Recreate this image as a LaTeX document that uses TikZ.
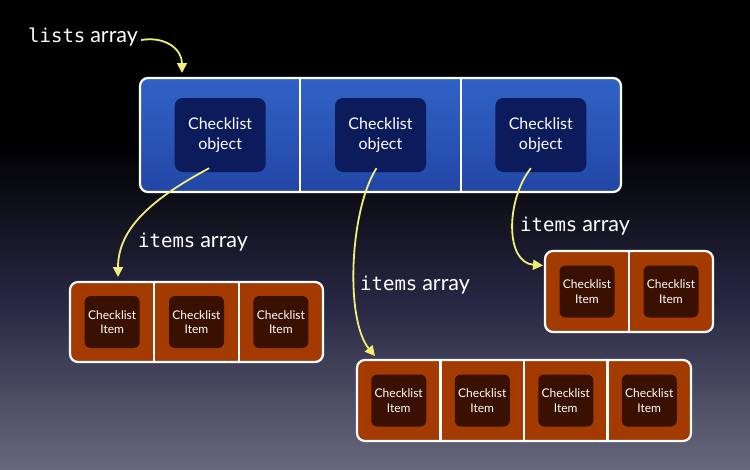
\documentclass[tikz,border=0pt]{standalone}
\usepackage{fontspec}
\setmainfont{Lato}
\setmonofont{DejaVu Sans Mono}
\usetikzlibrary{arrows.meta,positioning,calc}
\definecolor{bgbot}{RGB}{104,104,124}
\definecolor{bgmid}{RGB}{38,38,66}
\definecolor{bluetop}{RGB}{48,99,198}
\definecolor{bluebot}{RGB}{34,70,166}
\definecolor{navybox}{RGB}{12,27,92}
\definecolor{orangefill}{RGB}{163,58,0}
\definecolor{brownbox}{RGB}{58,17,0}
\definecolor{arrowyel}{RGB}{242,236,120}
\pgfdeclareverticalshading{bgshade}{100bp}{color(0bp)=(bgbot); color(25bp)=(bgbot);
  color(43bp)=(bgmid); color(60bp)=(black); color(100bp)=(black)}
\newcommand{\arrword}{{\fontsize{21.5}{22}\selectfont array}}

\begin{document}
\begin{tikzpicture}[x=1pt,y=-1pt,
  arraybox/.style={draw=white,line width=2.2pt,rounded corners=8pt,outer sep=0pt,inner sep=0pt},
  listarr/.style={arraybox,top color=bluetop,bottom color=bluebot},
  itemarr/.style={arraybox,fill=orangefill},
  divider/.style={draw=white,line width=2.2pt},
  objbox/.style={fill=navybox,rounded corners=8pt,minimum width=91pt,minimum height=74pt,
    align=center,text=white,font=\fontsize{16}{20.5}\selectfont},
  itembox/.style={fill=brownbox,rounded corners=6pt,minimum width=55pt,minimum height=52pt,
    align=center,text=white,font=\fontsize{12}{14.5}\selectfont},
  lbl/.style={text=white,font=\fontsize{19}{22}\selectfont,anchor=base west,inner sep=0pt},
  arr/.style={draw=arrowyel,line width=1.8pt,-{Triangle[length=10pt,width=10pt]}}]
\useasboundingbox (0,0) rectangle (750,469);
% Background
\fill[shading=bgshade] (0,0) rectangle (750,469);

% Top array of checklists
\node[listarr,minimum width=481pt,minimum height=114pt] (lists) at (380.5,135) {};
\foreach \k in {1,2}
  \draw[divider] ($(lists.north west)!\k/3!(lists.north east)$)
    -- ($(lists.south west)!\k/3!(lists.south east)$);
\foreach \k [evaluate=\k as \f using (\k-0.5)/3] in {1,2,3}
  \node[objbox] (obj\k) at ($(lists.west)!\f!(lists.east)$) {Checklist\\object};

% Item arrays
\node[itemarr,minimum width=253pt,minimum height=80pt] (itemsA) at (196.5,322) {};
\node[itemarr,minimum width=168pt,minimum height=81pt] (itemsB) at (629,291.5) {};
\node[itemarr,minimum width=334pt,minimum height=81pt] (itemsC) at (524,400.5) {};
\foreach \arrname/\n in {itemsA/3,itemsB/2,itemsC/4}{
  \foreach \k [evaluate=\k as \f using \k/\n] in {1,...,\n}{
    \ifnum\k<\n
      \draw[divider] ($(\arrname.north west)!\f!(\arrname.north east)$)
        -- ($(\arrname.south west)!\f!(\arrname.south east)$);
    \fi
  }
  \foreach \k [evaluate=\k as \f using (\k-0.5)/\n] in {1,...,\n}
    \node[itembox] (\arrname-\k) at ($(\arrname.west)!\f!(\arrname.east)$) {Checklist\\Item};
}

% Labels
\node[lbl] (listslbl) at (28,42) {\texttt{lists} \arrword};
\node[lbl] (itemslblA) at (138,247) {\texttt{items} \arrword};
\node[lbl] (itemslblC) at (360,290) {\texttt{items} \arrword};
\node[lbl] (itemslblB) at (520,231) {\texttt{items} \arrword};

% Arrows
\coordinate (listsin) at ($(lists.north west)+(42,-5)$);
\coordinate (inA) at ($(itemsA.north west)+(48,-5)$);
\coordinate (inC) at ($(itemsC.north west)+(18,-4)$);
\coordinate (inB) at ($(itemsB.west)+(-2,-26)$);
\draw[arr] ([xshift=3pt]listslbl.east |- 0,40) .. controls +(24,-4) and +(0,-24) .. (listsin);
\draw[arr] ($(obj1.south)+(-11,-4)$) .. controls +(-60,32) and +(0,-47) .. (inA);
\draw[arr] ($(obj2.south)+(-4,-4)$) .. controls +(-27,42) and +(-30,-36) .. (inC);
\draw[arr] ($(obj3.south)+(-10,-4)$) .. controls +(-25,32) and +(-38,-3) .. (inB);
\end{tikzpicture}
\end{document}
